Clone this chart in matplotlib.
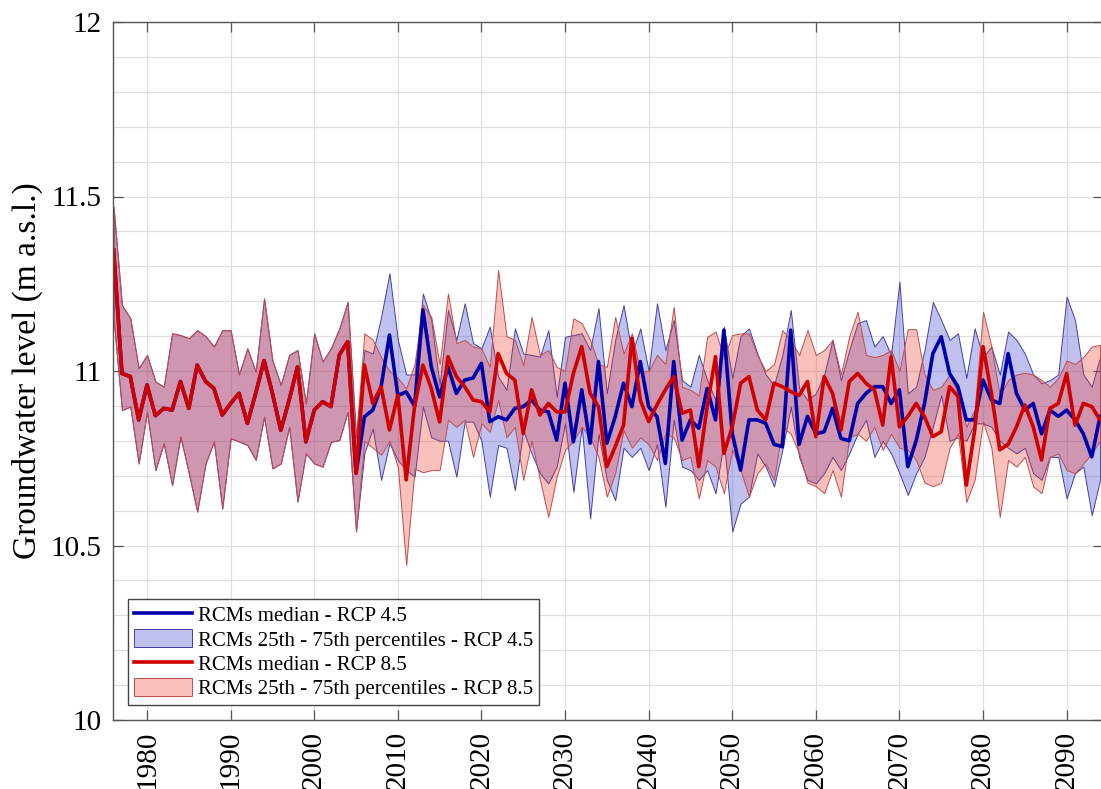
"""
Groundwater level projections: RCMs median and 25th-75th percentile bands
for RCP 4.5 and RCP 8.5 (historical part shared by both scenarios)
"""
import numpy as np
import matplotlib
matplotlib.use('Agg')
import matplotlib.pyplot as plt
from matplotlib.ticker import MultipleLocator, FormatStrFormatter

plt.rcParams['font.family'] = ['Liberation Serif', 'DejaVu Serif']

# Historical simulation (identical for both scenarios), 1976-2005
years_hist = np.arange(1976, 2006)
hist_median = [11.347, 10.993, 10.984, 10.86, 10.96, 10.872, 10.893, 10.888, 10.97, 10.893,
               11.017, 10.97, 10.95, 10.874, 10.907, 10.936, 10.85, 10.936, 11.03, 10.936,
               10.83, 10.917, 11.012, 10.797, 10.888, 10.912, 10.898, 11.046, 11.084, 10.707]
hist_p75 = [11.47, 11.189, 11.151, 11.008, 11.046, 10.97, 10.955, 11.108, 11.103, 11.094,
            11.117, 11.10, 11.07, 11.117, 11.117, 10.99, 11.065, 10.998, 11.208, 11.03,
            10.96, 11.046, 11.06, 10.907, 11.108, 11.027, 11.065, 11.122, 11.198, 10.81]
hist_p25 = [11.15, 10.888, 10.898, 10.735, 10.883, 10.716, 10.793, 10.673, 10.812, 10.707,
            10.597, 10.735, 10.798, 10.606, 10.807, 10.798, 10.788, 10.745, 10.869, 10.721,
            10.735, 10.84, 10.626, 10.764, 10.735, 10.726, 10.797, 10.802, 10.883, 10.54]

# Projections, 2006-2094
years_proj = np.arange(2006, 2095)
rcp45_median = [10.869, 10.888, 10.955, 11.103, 10.93, 10.94, 10.90, 11.175, 11.012, 10.926,
                11.012, 10.936, 10.974, 10.98, 11.022, 10.855, 10.869, 10.86, 10.893, 10.898,
                10.917, 10.888, 10.883, 10.802, 10.965, 10.797, 10.946, 10.793, 11.027, 10.793,
                10.869, 10.965, 10.898, 11.027, 10.898, 10.869, 10.735, 11.027, 10.802, 10.86,
                10.836, 10.95, 10.86, 11.117, 10.821, 10.716, 10.86, 10.86, 10.85, 10.79,
                10.783, 11.117, 10.79, 10.87, 10.82, 10.826, 10.893, 10.807, 10.80, 10.907,
                10.936, 10.955, 10.955, 10.907, 10.946, 10.726, 10.80, 10.907, 11.05, 11.098,
                10.993, 10.955, 10.86, 10.86, 10.974, 10.917, 10.907, 11.05, 10.936, 10.888,
                10.907, 10.82, 10.888, 10.87, 10.888, 10.86, 10.82, 10.754, 10.87]
rcp45_p75 = [11.06, 11.05, 11.155, 11.28, 11.089, 10.99, 10.99, 11.222, 11.146, 10.96,
             11.175, 11.089, 11.194, 11.08, 11.065, 11.127, 10.984, 10.946, 11.122, 11.05,
             11.046, 11.041, 11.117, 10.926, 11.098, 11.103, 11.108, 11.06, 11.18, 10.936,
             11.089, 11.189, 11.05, 11.122, 11.0, 11.194, 11.06, 11.146, 10.974, 10.955,
             11.046, 10.974, 10.917, 11.127, 10.98, 11.10, 11.122, 11.05, 10.99, 10.96,
             11.046, 11.175, 10.95, 10.917, 10.936, 10.99, 11.089, 10.974, 11.06, 11.137,
             11.146, 11.07, 11.10, 11.046, 11.256, 10.936, 10.955, 11.06, 11.198, 11.146,
             11.089, 11.108, 10.98, 11.122, 11.04, 11.07, 10.99, 11.113, 11.089, 11.05,
             10.99, 10.965, 10.974, 10.99, 11.213, 11.146, 10.99, 10.955, 11.04]
rcp45_p25 = [10.765, 10.835, 10.688, 10.793, 10.745, 10.716, 10.697, 10.898, 10.81, 10.80,
             10.80, 10.697, 10.855, 10.855, 10.80, 10.64, 10.788, 10.78, 10.659, 10.83,
             10.764, 10.707, 10.678, 10.726, 10.85, 10.654, 10.84, 10.578, 10.82, 10.688,
             10.63, 10.78, 10.754, 10.78, 10.716, 10.79, 10.611, 10.86, 10.726, 10.716,
             10.688, 10.716, 10.65, 10.80, 10.54, 10.62, 10.64, 10.764, 10.726, 10.669,
             10.774, 10.898, 10.754, 10.688, 10.678, 10.707, 10.754, 10.716, 10.764, 10.82,
             10.86, 10.754, 10.80, 10.764, 10.707, 10.645, 10.707, 10.754, 10.84, 10.93,
             10.80, 10.81, 10.80, 10.85, 10.85, 10.84, 10.80, 10.78, 10.764, 10.78,
             10.707, 10.688, 10.754, 10.754, 10.635, 10.707, 10.726, 10.587, 10.688]
rcp85_median = [11.017, 10.907, 10.955, 10.831, 10.931, 10.688, 10.898, 11.017, 10.95, 10.854,
                11.041, 10.984, 10.955, 10.917, 10.912, 10.883, 11.05, 10.993, 10.974, 10.821,
                10.946, 10.874, 10.907, 10.883, 10.883, 10.993, 11.07, 10.936, 10.898, 10.726,
                10.783, 10.845, 11.094, 10.917, 10.855, 10.903, 10.946, 10.984, 10.879, 10.888,
                10.726, 10.898, 11.041, 10.764, 10.84, 10.965, 10.984, 10.888, 10.86, 10.965,
                10.955, 10.941, 10.93, 10.97, 10.812, 10.984, 10.936, 10.831, 10.97, 10.993,
                10.965, 10.946, 10.845, 11.041, 10.84, 10.87, 10.907, 10.869, 10.812, 10.826,
                10.955, 10.927, 10.673, 10.83, 11.07, 10.936, 10.774, 10.79, 10.84, 10.903,
                10.84, 10.745, 10.893, 10.907, 10.993, 10.845, 10.907, 10.898, 10.86]
rcp85_p75 = [11.108, 11.09, 11.04, 11.0, 10.98, 10.95, 11.02, 11.19, 11.155, 11.02,
             11.222, 11.08, 11.089, 11.07, 11.065, 11.012, 11.289, 11.10, 11.089, 11.017,
             11.155, 11.046, 11.06, 11.012, 11.0, 11.151, 11.137, 11.089, 11.02, 11.012,
             11.155, 11.05, 11.108, 10.998, 11.0, 11.046, 11.02, 11.184, 10.955, 10.946,
             10.93, 11.098, 11.113, 11.04, 11.103, 11.108, 11.108, 11.046, 11.0, 11.02,
             11.117, 11.089, 11.046, 11.117, 11.046, 11.06, 11.089, 10.99, 11.10, 11.17,
             11.046, 11.04, 11.046, 11.06, 11.0, 11.12, 11.12, 10.99, 10.946, 10.955,
             10.99, 10.936, 10.84, 10.89, 11.17, 11.07, 10.93, 10.974, 10.99, 10.995,
             10.99, 10.974, 10.955, 10.98, 11.03, 11.02, 11.04, 11.07, 11.075]
rcp85_p25 = [10.80, 10.78, 10.76, 10.80, 10.725, 10.444, 10.72, 10.71, 10.716, 10.716,
             10.86, 10.84, 10.86, 10.754, 10.85, 10.826, 10.917, 10.81, 10.84, 10.688,
             10.80, 10.688, 10.582, 10.697, 10.774, 10.80, 10.84, 10.81, 10.754, 10.64,
             10.707, 10.83, 10.78, 10.81, 10.79, 10.745, 10.82, 10.81, 10.745, 10.754,
             10.635, 10.745, 10.726, 10.65, 10.774, 10.716, 10.64, 10.707, 10.735, 10.688,
             10.84, 10.82, 10.764, 10.68, 10.67, 10.65, 10.716, 10.64, 10.81, 10.82,
             10.80, 10.84, 10.774, 10.82, 10.78, 10.774, 10.745, 10.68, 10.67, 10.68,
             10.78, 10.82, 10.625, 10.688, 10.855, 10.78, 10.582, 10.745, 10.726, 10.754,
             10.669, 10.65, 10.754, 10.764, 10.716, 10.707, 10.735, 10.764, 10.80]

labels = ['RCMs median - RCP 4.5',
          'RCMs 25th - 75th percentiles - RCP 4.5',
          'RCMs median - RCP 8.5',
          'RCMs 25th - 75th percentiles - RCP 8.5']

# full series = historical + projection
years = np.concatenate([years_hist, years_proj])
med45 = np.concatenate([hist_median, rcp45_median])
lo45 = np.concatenate([hist_p25, rcp45_p25])
hi45 = np.concatenate([hist_p75, rcp45_p75])
med85 = np.concatenate([hist_median, rcp85_median])
lo85 = np.concatenate([hist_p25, rcp85_p25])
hi85 = np.concatenate([hist_p75, rcp85_p75])

fig = plt.figure(figsize=(11.01, 7.89), dpi=100)
ax = fig.add_axes([113 / 1101, 69 / 789, 990 / 1101, 698 / 789])

# Grid
ax.grid(True, which='major', color='#E0E0E0', linewidth=0.9)
ax.grid(True, which='minor', axis='y', color='#E0E0E0', linewidth=0.9)
ax.set_axisbelow(True)

# Bands and medians (plot order = legend order)
h2 = ax.fill_between(years, lo45, hi45, facecolor=(0.2, 0.2, 0.8, 0.3),
                     edgecolor=(0.25, 0.25, 0.65), linewidth=0.7)
h1, = ax.plot(years, med45, color='#0000AA', linewidth=2.6)
h4 = ax.fill_between(years, lo85, hi85, facecolor=(0.93, 0.2, 0.13, 0.3),
                     edgecolor=(0.75, 0.3, 0.3), linewidth=0.7)
h3, = ax.plot(years, med85, color='#D00000', linewidth=2.6)

# Axes limits and ticks
ax.set_xlim(1975.93, 2094.35)
ax.set_ylim(10, 12)
ax.xaxis.set_major_locator(MultipleLocator(10))
ax.yaxis.set_major_locator(MultipleLocator(0.5))
ax.yaxis.set_minor_locator(MultipleLocator(0.1))
ax.yaxis.set_major_formatter(FormatStrFormatter('%g'))
ax.tick_params(axis='both', which='major', direction='in', length=7, width=0.9,
               color='#555555', labelsize=21, top=True, right=True, pad=8)
ax.tick_params(axis='y', which='minor', length=0)
plt.setp(ax.get_xticklabels(), rotation=90)
for sp in ax.spines.values():
    sp.set_color('#555555')
    sp.set_linewidth(1.0)

ax.set_ylabel('Groundwater level (m a.s.l.)', fontsize=24, labelpad=6)

leg = ax.legend([h1, h2, h3, h4], labels, loc='lower left',
                bbox_to_anchor=(0.015, 0.021), borderaxespad=0, fontsize=15.0,
                fancybox=False, framealpha=1, edgecolor='#444444',
                handlelength=2.8, handleheight=0.95, labelspacing=0.15,
                handletextpad=0.25, borderpad=0.3)
leg.get_frame().set_linewidth(1.0)

plt.savefig('out.png', dpi=100, facecolor='white')
